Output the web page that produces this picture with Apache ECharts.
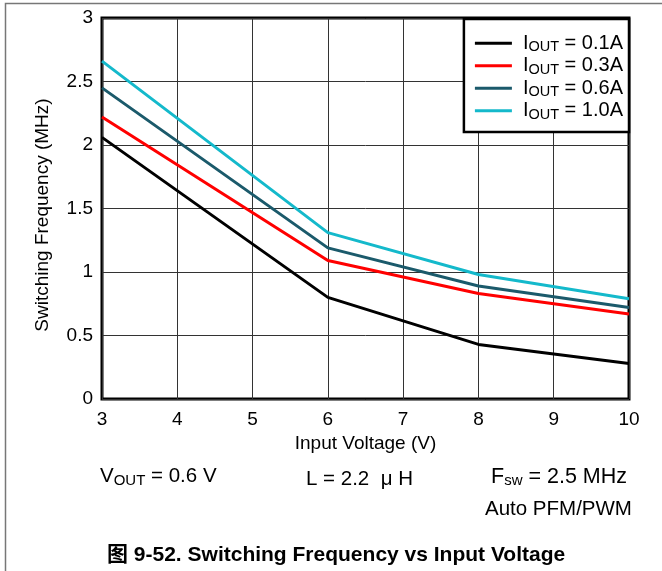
<!DOCTYPE html>
<html><head><meta charset="utf-8">
<script src="https://cdn.jsdelivr.net/npm/echarts@6/dist/echarts.min.js"></script>
<style>html,body{margin:0;padding:0;background:#fff}#c{width:662px;height:571px}</style>
</head><body><div id="c"></div>
<script>
const xValues = [3, 6, 8, 10];
const iout01 = [2.06, 0.80, 0.43, 0.28];
const iout03 = [2.22, 1.09, 0.83, 0.67];
const iout06 = [2.45, 1.19, 0.89, 0.72];
const iout10 = [2.66, 1.31, 0.98, 0.79];
const seriesNames = ['0.1A', '0.3A', '0.6A', '1.0A'];
const seriesColors = ['#000000', '#ff0000', '#1b5a6b', '#14b9cb'];
const allData = [iout01, iout03, iout06, iout10];

const FONT = '"Liberation Sans", Arial, "Noto Sans CJK SC", sans-serif';
const chart = echarts.init(document.getElementById('c'), null, {renderer: 'canvas'});
const series = allData.map((d, i) => ({
  name: seriesNames[i],
  type: 'line',
  data: d.map((v, j) => [xValues[j], v]),
  showSymbol: false,
  symbol: 'none',
  lineStyle: {color: seriesColors[i], width: 3},
  itemStyle: {color: seriesColors[i]},
  z: 10 + i
}));

chart.setOption({
  animation: false,
  backgroundColor: '#fff',
  textStyle: {fontFamily: FONT},
  title: {
    text: '图 9-52. Switching Frequency vs Input Voltage',
    left: 102, top: 540,
    textStyle: {fontFamily: FONT, fontWeight: 'bold', fontSize: 21, color: '#000'}
  },
  grid: {left: 102, right: 33, top: 18, bottom: 172, show: true, borderColor: '#000', borderWidth: 3, backgroundColor: 'transparent'},
  legend: {
    right: 33, top: 19,
    orient: 'vertical',
    itemGap: 0,
    itemWidth: 37, itemHeight: 3,
    padding: [13, 6, 10, 11],
    backgroundColor: '#fff',
    borderColor: '#000', borderWidth: 2.5, borderRadius: 0,
    icon: 'rect',
    data: seriesNames,
    formatter: n => '{a|I}{b|OUT}{a| = ' + n + '}',
    textStyle: {
      fontFamily: FONT, color: '#000', padding: [0, 0, 0, 6],
      rich: {
        a: {fontSize: 20, fontFamily: FONT, color: '#000', lineHeight: 20},
        b: {fontSize: 14.5, fontFamily: FONT, color: '#000', lineHeight: 20, padding: [8, 0, 0, 0]}
      }
    }
  },
  xAxis: {
    type: 'value', min: 3, max: 10, interval: 1,
    name: 'Input Voltage (V)', nameLocation: 'middle', nameGap: 32,
    nameTextStyle: {fontFamily: FONT, fontSize: 19, color: '#000'},
    axisLine: {show: false},
    axisTick: {show: false},
    axisLabel: {fontFamily: FONT, fontSize: 19, color: '#000', margin: 11},
    splitLine: {show: true, lineStyle: {color: '#333', width: 1}}
  },
  yAxis: {
    type: 'value', min: 0, max: 3, interval: 0.5,
    name: 'Switching Frequency (MHz)', nameLocation: 'middle', nameGap: 50,
    nameTextStyle: {fontFamily: FONT, fontSize: 19, color: '#000', padding: [0, 13, 0, 0]},
    axisLine: {show: false},
    axisTick: {show: false},
    axisLabel: {fontFamily: FONT, fontSize: 19, color: '#000', margin: 9},
    splitLine: {show: true, lineStyle: {color: '#333', width: 1}}
  },
  graphic: [
    {type: 'rect', left: 3, top: 1, shape: {width: 700, height: 700}, style: {fill: 'none', stroke: '#777', lineWidth: 1.5}, silent: true, z: -1},
    {type: 'text', left: 100, top: 466, style: {text: 'V{s|OUT} = 0.6 V', fill: '#000', font: '20.5px ' + FONT,
      rich: {s: {fontSize: 15, fontFamily: FONT, padding: [9, 0, 0, 0], fill: '#000'}}}},
    {type: 'text', left: 306, top: 469, style: {text: 'L = 2.2  μ H', fill: '#000', font: '20.5px ' + FONT}},
    {type: 'text', left: 491, top: 466, style: {text: 'F{s|sw} = 2.5 MHz', fill: '#000', font: '21.5px ' + FONT,
      rich: {s: {fontSize: 15, fontFamily: FONT, padding: [9, 0, 0, 0], fill: '#000'}}}},
    {type: 'text', left: 485, top: 499, style: {text: 'Auto PFM/PWM', fill: '#000', font: '20.5px ' + FONT}}
  ],
  series: series
});
</script></body></html>
